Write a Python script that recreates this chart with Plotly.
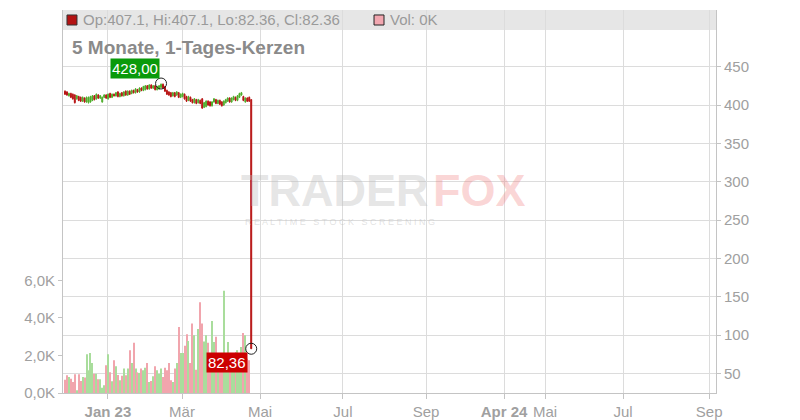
import plotly.graph_objects as go

# ---------------- data ----------------
opens = [418,417,412,415,414,413,408,411,410,405,
         409,404,403,404,406,412,408,413,409,404,
         410,413,408,415,410,414,412,417,411,416,
         412,418,413,418,415,419,416,420,417,422,
         419,420,425,421,426,422,425,420,421,423,
         427,424,419,417,416,412,416,413,416,410,
         411,414,411,406,410,407,403,407,403,406,
         408,397,398,405,404,399,404,407,402,406,
         404,400,403,405,409,404,407,410,406,410,
         413,411,404,409,410,407.1]
closes = [414,413,415,410,408,403,412,406,405,410,
          404,410,410,411,412,407,414,409,412,410,
          413,409,414,410,414,412,416,411,415,412,
          417,413,418,414,419,416,421,417,422,419,
          424,425,421,426,422,425,420,424,425,427,
          422,418,414,413,411,416,411,417,410,414,
          415,408,405,411,405,403,408,402,407,402,
          396,403,405,400,399,404,408,402,406,401,
          399,405,407,409,404,409,411,406,412,415,
          416,406,409,405,405,82.36]
highs = [419,418,416,416,415,414,413,412,411,411,
         410,411,411,412,413,413,415,414,413,411,
         414,414,415,416,415,415,417,418,416,417,
         418,419,419,419,420,420,422,421,423,423,
         425,426,426,427,427,426,426,425,426,428,
         428,425,420,418,417,417,417,418,417,415,
         416,415,412,412,411,408,409,408,408,407,
         409,404,406,406,405,405,409,408,407,407,
         405,406,408,410,410,410,412,411,413,416,
         417,412,410,410,411,407.1]
lows = [413,412,411,409,407,402,407,405,404,404,
        403,403,402,403,405,406,407,408,408,403,
        409,408,407,409,409,411,411,410,410,411,
        411,412,412,413,414,415,415,416,416,418,
        418,419,420,420,421,421,419,419,420,422,
        421,417,413,412,410,411,410,412,409,409,
        410,407,404,405,404,402,402,401,402,401,
        395,396,397,399,398,398,403,401,401,400,
        398,399,402,404,403,403,406,405,405,409,
        412,405,403,404,404,82.36]
volumes_k = [0.71,0.94,0.85,0.76,0.59,1.00,0.14,1.00,0.64,0.85,
             0.82,2.06,1.21,2.13,1.60,1.03,1.03,0.73,0.73,0.28,
             0.41,1.48,2.06,1.10,0.62,1.74,1.42,0.96,0.68,0.92,
             1.30,0.94,1.30,2.28,1.60,2.67,1.30,1.10,1.07,1.30,
             1.21,1.35,1.60,0.59,0.64,0.89,1.42,1.21,1.03,1.30,
             0.85,1.35,1.21,1.60,0.68,0.59,1.30,1.60,3.52,2.13,
             2.13,2.52,3.13,2.77,1.60,3.70,3.08,1.24,3.41,4.84,
             3.70,2.74,3.08,2.67,2.13,3.84,2.72,2.99,1.88,1.88,
             1.96,5.44,1.65,2.72,1.88,1.88,1.96,2.19,2.28,1.96,
             2.45,3.20,3.08,1.83,1.74,0.0]

# time axis (trading-day index) tick labels
x_tick_pos = [21.9, 59.7, 99.5, 141.8, 184.2, 224.0, 244.9, 284.7, 328.6]
x_tick_text = ["<b>Jan 23</b>", "Mär", "Mai", "Jul", "Sep", "<b>Apr 24</b>", "Mai", "Jul", "Sep"]
price_ticks = [50, 100, 150, 200, 250, 300, 350, 400, 450]
vol_ticks = [0, 2, 4, 6]
vol_tick_text = ["0,0K", "2,0K", "4,0K", "6,0K"]
title_text = "5 Monate, 1-Tages-Kerzen"

# ---------------- styles ----------------
GREEN = "#4fae2c"
RED = "#b81414"
VGREEN = "#a9dd9c"
VPINK = "#f1a5ad"
GRID = "#dcdcdc"
AXIS = "#c4c4c4"
TICKC = "#a0a0a0"
FONT = "Liberation Sans, Arial, sans-serif"

idx = list(range(len(opens)))
vol_colors = [VGREEN if c >= o else VPINK for o, c in zip(opens, closes)]

fig = go.Figure()
fig.add_trace(go.Bar(x=idx, y=volumes_k, width=0.55, marker=dict(color=vol_colors, line=dict(width=0)),
                     yaxis="y", hoverinfo="skip"))
fig.add_trace(go.Candlestick(x=idx, open=opens, high=highs, low=lows, close=closes, yaxis="y2",
                             increasing=dict(line=dict(color=GREEN, width=1), fillcolor=GREEN),
                             decreasing=dict(line=dict(color=RED, width=1), fillcolor=RED),
                             whiskerwidth=0))

hi_val = max(highs)
hi_idx = highs.index(hi_val)
last_idx = idx[-1]
last_val = closes[-1]
fig.add_trace(go.Scatter(x=[hi_idx, last_idx], y=[hi_val, last_val], mode="markers", yaxis="y2",
                         marker=dict(symbol="circle-open", size=11, color="#222", line=dict(width=1))))

def de(v):
    return f"{v:.2f}".replace(".", ",")

annotations = [
    dict(x=hi_idx, y=hi_val, xref="x", yref="y2", text=de(hi_val), showarrow=False,
         xanchor="right", yanchor="bottom", xshift=-1, yshift=5,
         font=dict(family=FONT, size=15, color="white"), bgcolor="#0a9a0a", borderpad=1),
    dict(x=last_idx, y=last_val, xref="x", yref="y2", text=de(last_val), showarrow=False,
         xanchor="right", yanchor="top", xshift=-3, yshift=-3,
         font=dict(family=FONT, size=15, color="white"), bgcolor="#cc0000", borderpad=1),
    dict(x=0.0276, y=0.974, xref="paper", yref="paper", xanchor="left", yanchor="middle", showarrow=False,
         text=f"Op:{opens[-1]}, Hi:{highs[-1]}, Lo:{lows[-1]}, Cl:{closes[-1]}",
         font=dict(family=FONT, size=15, color="#9a9a9a")),
    dict(x=0.4977, y=0.974, xref="paper", yref="paper", xanchor="left", yanchor="middle", showarrow=False,
         text=f"Vol: {volumes_k[-1]:.0f}K", font=dict(family=FONT, size=15, color="#9a9a9a")),
    dict(x=0.0105, y=0.903, xref="paper", yref="paper", xanchor="left", yanchor="middle", showarrow=False,
         text=f"<b>{title_text}</b>", font=dict(family=FONT, size=19, color="#8a8a8a")),
    # watermark
    dict(x=0.564, y=0.530, xref="paper", yref="paper", xanchor="right", yanchor="middle", showarrow=False,
         text="<b>TRADER</b>", font=dict(family=FONT, size=45, color="rgba(190,190,190,0.4)")),
    dict(x=0.564, y=0.530, xref="paper", yref="paper", xanchor="left", yanchor="middle", showarrow=False,
         text="<b>FOX</b>", font=dict(family=FONT, size=45, color="rgba(240,110,110,0.28)")),
    dict(x=0.424, y=0.447, xref="paper", yref="paper", xanchor="center", yanchor="middle", showarrow=False,
         text="R E A L T I M E   S T O C K   S C R E E N I N G",
         font=dict(family=FONT, size=9, color="rgba(190,190,190,0.45)")),
]

shapes = [
    dict(type="rect", xref="paper", yref="paper", x0=0, x1=1, y0=0.948, y1=1,
         fillcolor="#e6e6e6", line=dict(width=0), layer="below"),
    dict(type="rect", xref="paper", yref="paper", x0=0.0061, x1=0.0214, y0=0.9608, y1=0.987,
         fillcolor="#b31212", line=dict(color="#333", width=1)),
    dict(type="rect", xref="paper", yref="paper", x0=0.4763, x1=0.4916, y0=0.9608, y1=0.987,
         fillcolor="#f2a7b0", line=dict(color="#222", width=1)),
]

fig.update_layout(
    width=800, height=420,
    margin=dict(l=63, r=84, t=10, b=27),
    paper_bgcolor="white", plot_bgcolor="white",
    showlegend=False,
    font=dict(family=FONT, size=15, color=TICKC),
    xaxis=dict(range=[-1.02, 332.1], tickmode="array", tickvals=x_tick_pos, ticktext=x_tick_text,
               showgrid=True, gridcolor=GRID, gridwidth=1, zeroline=False, automargin=False,
               showline=True, linecolor=AXIS, ticks="outside", ticklen=5, tickcolor=AXIS,
               tickfont=dict(family=FONT, size=15, color=TICKC), rangeslider=dict(visible=False)),
    yaxis=dict(range=[0, 20.4], tickmode="array", tickvals=vol_ticks, ticktext=vol_tick_text,
               showgrid=False, zeroline=False, showline=True, linecolor=AXIS, automargin=False,
               ticks="outside", ticklen=4, tickcolor=AXIS,
               tickfont=dict(family=FONT, size=15, color=TICKC)),
    yaxis2=dict(range=[24.7, 523.8], overlaying="y", side="right", tickmode="array", tickvals=price_ticks,
                showgrid=True, gridcolor=GRID, zeroline=False, showline=True, linecolor=AXIS,
                automargin=False, ticks="outside", ticklen=4, tickcolor=AXIS,
                tickfont=dict(family=FONT, size=15, color=TICKC)),
    annotations=annotations,
    shapes=shapes,
)

fig.write_html("out.html", config={"displayModeBar": False},
               post_script="document.body.style.margin='0';")
